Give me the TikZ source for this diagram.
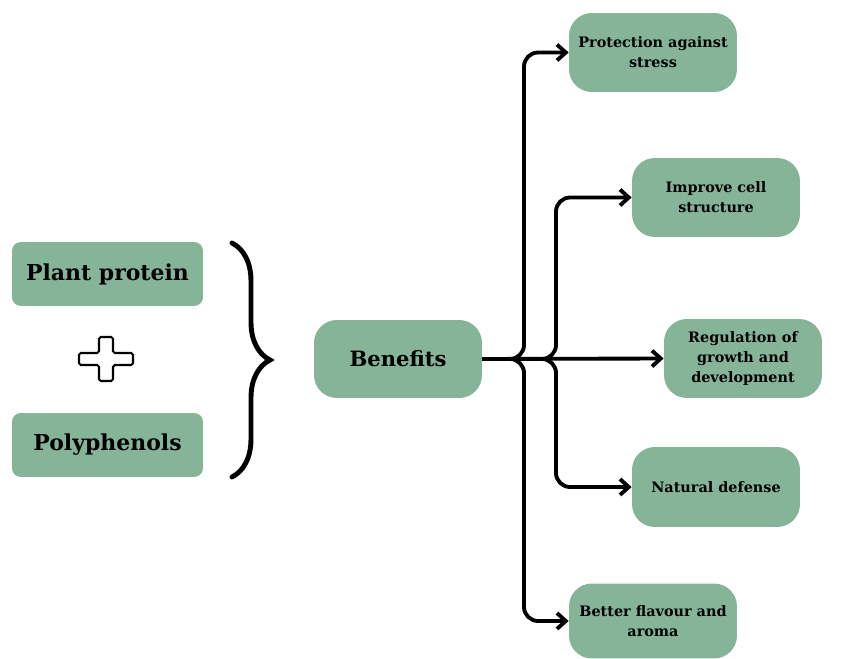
\documentclass[tikz,border=0pt]{standalone}
\usepackage{fontspec}
\setmainfont{DejaVu Serif}
\usepackage{tikz}
\usetikzlibrary{arrows.meta,decorations.pathreplacing}
\definecolor{sage}{RGB}{134,180,153}

\begin{document}
\begin{tikzpicture}[x=0.02cm,y=-0.02cm,
  nodes = {align=center,font=\bfseries},
  plainbox/.style = {fill=sage,rounded corners=5pt,minimum width=3.82cm,minimum height=1.28cm,font=\fontsize{12.5}{15}\selectfont\bfseries},
  benefitbox/.style = {fill=sage,rounded corners=13pt,minimum width=3.36cm,minimum height=1.58cm,font=\fontsize{8.2}{11.3}\selectfont\bfseries},
  link/.style = {line width=2.2pt,rounded corners=8pt,-{Straight Barb[length=5pt,width=9pt]}}]

\useasboundingbox (0,0) rectangle (843,659);

\node[plainbox] (plant) at (107.5,274) {Plant protein};
\node[plainbox] (poly) at (107.5,445) {Polyphenols};

% plus sign
\draw[line width=1.2pt,rounded corners=1pt] (99,337) -- (113,337) -- (113,353) -- (133,353) -- (133,365) -- (113,365)
  -- (113,381) -- (99,381) -- (99,365) -- (79,365) -- (79,353) -- (99,353) -- cycle;

% brace
\draw[line width=2.8pt,line cap=round,decorate,decoration={brace,amplitude=0.76cm}] (232,243) -- (232,477);

\node[benefitbox,minimum width=3.36cm,minimum height=1.56cm,font=\fontsize{12}{14}\selectfont\bfseries] (benefits) at (398,359) {Benefits};

\node[benefitbox] (protection) at (653,52.5) {Protection against\\stress};
\node[benefitbox] (improve) at (716,197.5) {Improve cell\\structure};
\node[benefitbox,minimum width=3.16cm] (regulation) at (743,358.5) {Regulation of\\growth and\\development};
\node[benefitbox,minimum height=1.6cm] (natural) at (716,487) {Natural defense};
\node[benefitbox,minimum height=1.5cm] (flavour) at (653,621) {Better flavour and\\aroma};

\coordinate (forkA) at (524,359);
\coordinate (forkB) at (556,359);

\draw[link] (benefits.east) -| (forkA |- protection.west) -- (protection.west);
\draw[link] (benefits.east) -| (forkB |- improve.west) -- (improve.west);
\draw[link,rounded corners=0pt] (benefits.east) -- (regulation.west);
\draw[link] (benefits.east) -| (forkB |- natural.west) -- (natural.west);
\draw[link] (benefits.east) -| (forkA |- flavour.west) -- (flavour.west);
\end{tikzpicture}
\end{document}
